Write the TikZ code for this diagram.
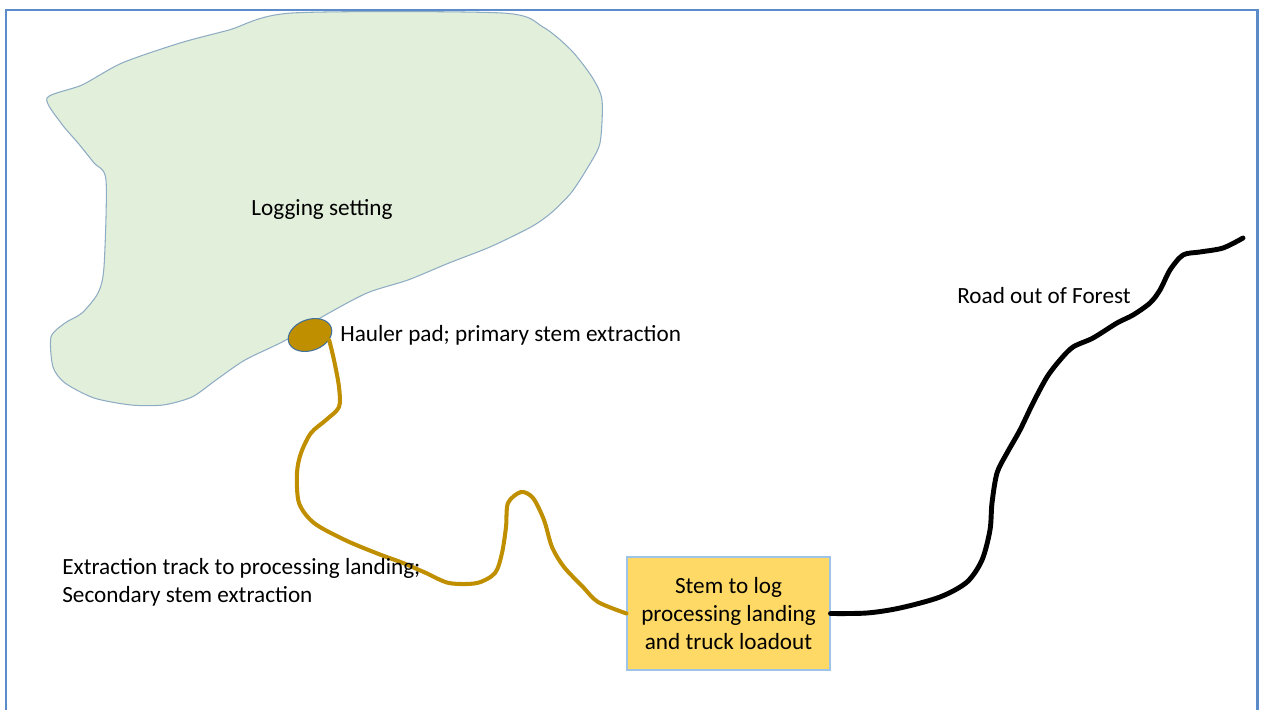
\documentclass[tikz,border=0pt]{standalone}
\usepackage{fontspec}
\setmainfont{Carlito}
\usepackage{tikz}
\usetikzlibrary{shapes,arrows}
\definecolor{setgreen}{HTML}{E2EFDA}
\definecolor{setedge}{HTML}{8EACC4}
\definecolor{padgold}{HTML}{BF8F00}
\definecolor{padedge}{HTML}{41719C}
\definecolor{landyellow}{HTML}{FFD966}
\definecolor{landedge}{HTML}{9DC3E6}
\definecolor{frameblue}{HTML}{5B8BC9}
\newcommand{\maplabel}[3] {\node at (#1) (#2) [anchor=west, align=left, inner sep=0pt] {#3};}
\newcommand{\mappad}[2] {\node at (#1) (#2) [ellipse, draw=padedge, fill=padgold, line width=0.6pt, minimum width=0.9cm, minimum height=0.62cm, rotate=20] {};}
\newcommand{\maplanding}[3] {\node at (#1) (#2) [rectangle, draw=landedge, fill=landyellow, line width=0.6pt, minimum width=4.06cm, minimum height=2.26cm, align=center] {#3};}

\begin{document}
\begin{tikzpicture}[x=0.02cm, y=-0.02cm, font=\fontsize{13.2}{16}\selectfont,
  track/.style={draw=padgold, line width=2.3pt, line cap=round, line join=round},
  road/.style={draw=black, line width=2.8pt, line cap=round, line join=round}]
\useasboundingbox (0,0) rectangle (1265,710);
\draw [frameblue, line width=1.7pt] (6,730) -- (6,10) -- (1257,10) -- (1257,730);

% logging setting
\draw [setedge, fill=setgreen, line width=0.6pt] plot [smooth cycle, tension=0.45] coordinates {
  (47,98) (82,85) (122,63) (180,43) (229,30) (292,13) (502,13) (543,27) (571,50)
  (592,77) (602,100) (600,143) (588,167) (571,193) (551,213) (531,227) (490,247)
  (449,263) (408,280) (367,293) (322,317) (286,340) (245,360) (216,380) (192,397)
  (163,405) (131,405) (94,398) (65,383) (53,367) (51,337) (65,323) (82,313)
  (98,293) (104,267) (106,180) (94,163) (78,143) (61,123)};
\node at (322,209) (setting) {Logging setting};

\mappad {310,335} {pad};
\maplabel {340,335} {padlabel} {Hauler pad; primary stem extraction};
\maplanding {728.5,613.5} {landing} {Stem to log\\processing landing\\and truck loadout};

% extraction track
\draw [track] plot [smooth, tension=0.5] coordinates {
  (pad.south east) (334,360) (339,387) (339,407) (326,420) (311,433) (301,453)
  (297,473) (299,503) (314,523) (345,540) (376,553) (403,563) (426,573) (449,583)
  (477,583) (495,573) (502,553) (506,527) (508,503) (521,492) (533,498) (544,520)
  (552,547) (564,567) (583,587) (598,602) (landing.west)};
\maplabel {62,582} {tracklabel} {Extraction track to processing landing;\\Secondary stem extraction};

% road
\coordinate (roadend) at (1243,238);
\draw [road] plot [smooth, tension=0.5] coordinates {
  (landing.east) (867,613) (900,608) (940,597) (967,582) (982,560) (990,530)
  (992,503) (997,473) (1007,453) (1020,430) (1033,403) (1047,377) (1060,360)
  (1073,347) (1093,338) (1117,323) (1133,315) (1150,303) (1160,290) (1170,270)
  (1183,255) (1200,252) (1223,248) (roadend)};
\maplabel {957,296} {roadlabel} {Road out of Forest};
\end{tikzpicture}
\end{document}
